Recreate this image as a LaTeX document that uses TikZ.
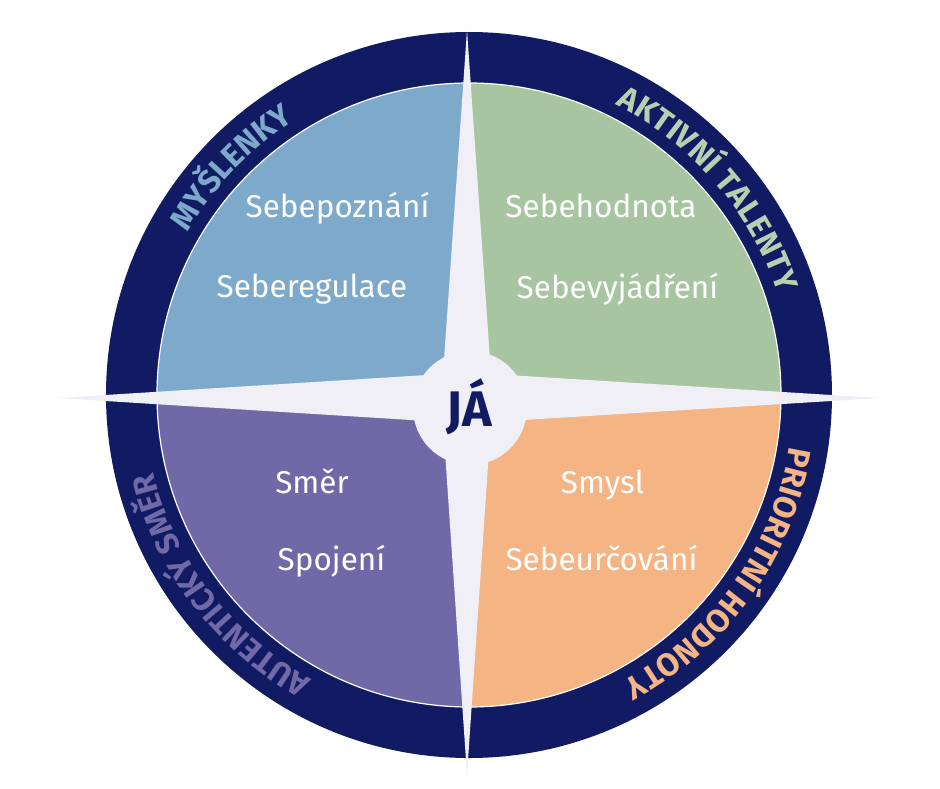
\documentclass[tikz,border=0pt]{standalone}
\usepackage{fontspec}
\setmainfont{Fira Sans}
\usepackage{xcolor}
\usetikzlibrary{decorations.text}

\definecolor{navy}{HTML}{111B64}
\definecolor{qblue}{HTML}{7DA9CA}
\definecolor{qgreen}{HTML}{A8C5A1}
\definecolor{qpurple}{HTML}{7169A7}
\definecolor{qorange}{HTML}{F4B484}
\definecolor{lgreen}{HTML}{B8D0AF}
\definecolor{starfill}{HTML}{EFEFF5}

\newcommand{\ringfont}{\fontsize{32}{35}\selectfont\bfseries}

\begin{document}
\begin{tikzpicture}[x=1pt, y=1pt,
  qtext/.style={anchor=base, text=white, font=\fontsize{31.5}{36}\selectfont},
  ringlbl/.style 2 args={decorate, decoration={text along path, text align=fit to path,
                  text color=#1, text={|\ringfont|#2}}}
]
\useasboundingbox (-469,-393) rectangle (471,395);

% ring and quadrants
\fill[navy] (0,0) circle (363);
\begin{scope}
  \clip (0,0) circle (312);
  \fill[qblue]   (-2,-3) rectangle (-320,320);
  \fill[qgreen]  (-2,-3) rectangle (320,320);
  \fill[qorange] (-2,-3) rectangle (320,-320);
  \fill[qpurple] (-2,-3) rectangle (-320,-320);
\end{scope}
\draw[white, line width=1.2pt] (0,0) circle (312);

% compass star
\begin{scope}[shift={(-2,-3)}]
  \fill[starfill] (0,368) -- (24,24) -- (413,0) -- (24,-24) -- (0,-377)
                  -- (-24,-24) -- (-410,0) -- (-24,24) -- cycle;
\end{scope}
\fill[starfill] (1,-13) circle (57);
\node[anchor=base, text=navy, font=\fontsize{50}{54}\selectfont\bfseries] (ja) at (0.5,-31) {JÁ};

% ring labels
\path[ringlbl={qblue}{MYŠLENKY}] (150:325) arc[start angle=150, end angle=122.5, radius=325];
\path[ringlbl={lgreen}{AKTIVNÍ TALENTY}] (63.3:325) arc[start angle=63.3, end angle=18.3, radius=325];
\path[ringlbl={qorange}{PRIORITNÍ HODNOTY}] (-9.2:325) arc[start angle=-9.2, end angle=-61.1, radius=325];
\path[ringlbl={qpurple}{AUTENTICKÝ SMĚR}] (241.1:325) arc[start angle=241.1, end angle=193.8, radius=325];

% quadrant texts
\node[qtext] (poz)   at (-131.5,178) {Sebepoznání};
\node[qtext] (reg)   at (-157,98)    {Seberegulace};
\node[qtext] (hod)   at (132,178)    {Sebehodnota};
\node[qtext] (vyj)   at (148.5,97)   {Sebevyjádření};
\node[qtext] (smer)  at (-157,-98)   {Směr};
\node[qtext] (spoj)  at (-137.5,-175) {Spojení};
\node[qtext] (smysl) at (133.5,-98)  {Smysl};
\node[qtext] (urc)   at (132.5,-175) {Sebeurčování};

\end{tikzpicture}
\end{document}
